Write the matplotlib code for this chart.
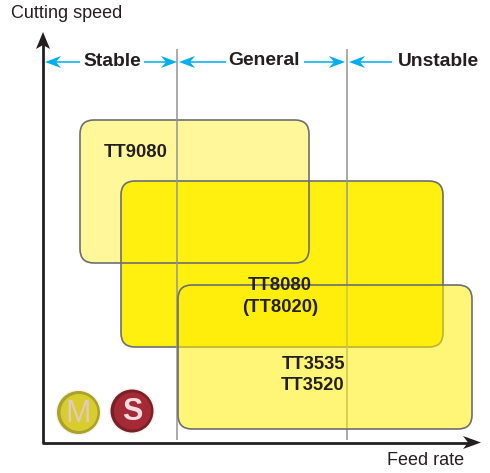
import matplotlib
matplotlib.use("Agg")
import matplotlib.pyplot as plt
from matplotlib.patches import FancyBboxPatch, Circle, Polygon

plt.rcParams['font.family'] = ['Liberation Sans', 'DejaVu Sans']

# Grades: (feed rate low, feed rate high, speed low, speed high), chart units = reference pixels
grades = ["TT9080", "TT8080", "TT3535"]
feed_low = [80, 121, 178]
feed_high = [309, 443, 472]
speed_top = [120, 181, 285]
speed_bottom = [263, 347, 429]
fills = ["#FFF799", "#FFF00F", "#FFED08"]
fill_alpha = [1, 1, 0.55]

boundaries = [177, 347]
zones = ["Stable", "General", "Unstable"]

INK = "#231F20"
CYAN = "#00AEEF"
EDGE = "#6D6E71"

fig = plt.figure(figsize=(4.9, 4.73), dpi=100)
ax = fig.add_axes([0, 0, 1, 1])
ax.set_xlim(0, 490)
ax.set_ylim(473, 0)
ax.axis("off")

R = 14
def box(i, **kw):
    x0, x1, y0, y1 = feed_low[i], feed_high[i], speed_top[i], speed_bottom[i]
    p = FancyBboxPatch((x0 + R, y0 + R), x1 - x0 - 2 * R, y1 - y0 - 2 * R,
                       boxstyle=f"round,pad={R},rounding_size={R}", **kw)
    ax.add_patch(p)

box(0, facecolor=fills[0], edgecolor="none", zorder=1)
box(1, facecolor=fills[1], edgecolor="none", zorder=1.5)
box(0, facecolor="none", edgecolor=EDGE, lw=1.2, zorder=2)
box(1, facecolor="none", edgecolor=EDGE, lw=1.2, zorder=2)

for b in boundaries:
    ax.plot([b, b], [49, 440], color="#939598", lw=1.1, zorder=3, solid_capstyle="butt")

# translucent top box lets the lines and the box below show through
box(2, facecolor=fills[2], edgecolor="none", alpha=fill_alpha[2], zorder=4)
box(2, facecolor="none", edgecolor=EDGE, lw=1.2, zorder=5)

# axes
ax.plot([43, 43], [44, 442.5], color=INK, lw=2.0, zorder=7, solid_capstyle="butt")
ax.plot([42, 470], [442.5, 442.5], color=INK, lw=2.0, zorder=7, solid_capstyle="butt")
ax.add_patch(Polygon([(43, 32), (50, 49), (43, 45), (36, 49)], fc=INK, ec="none", zorder=8))
ax.add_patch(Polygon([(481, 442.5), (463, 436), (468, 442.5), (463, 449)], fc=INK, ec="none", zorder=8))

# zone arrows
ARROW_Y = 62
def zone_arrow(start, tip):
    d = 1 if tip > start else -1
    ax.plot([start, tip - d * 8], [ARROW_Y, ARROW_Y], color=CYAN, lw=1.1, zorder=7, solid_capstyle="butt")
    ax.add_patch(Polygon([(tip, ARROW_Y), (tip - d * 16, ARROW_Y - 6), (tip - d * 11, ARROW_Y),
                          (tip - d * 16, ARROW_Y + 6)], fc=CYAN, ec="none", zorder=8))

for start, tip in [(80, 45), (144, 177), (226, 179), (304, 345), (392, 349)]:
    zone_arrow(start, tip)

bold = dict(fontweight="bold", color=INK, fontsize=13.9, ha="center", va="center", zorder=9)
ax.text(112, 61.5, zones[0], **bold)
ax.text(264, 60.5, zones[1], **bold)
ax.text(438, 61.5, zones[2], **bold)

grade = dict(fontweight="bold", color=INK, fontsize=13.2, ha="center", va="center", zorder=9)
ax.text(136, 152, "TT9080", **grade)
ax.text(280, 285, "TT8080", **grade)
ax.text(280, 307, "(TT8020)", **grade)
ax.text(313, 364, "TT3535", **grade)
ax.text(313, 385.5, "TT3520", **grade)

reg = dict(color=INK, fontsize=13, zorder=9, va="center")
ax.text(11, 14, "Cutting speed", ha="left", **reg)
ax.text(464, 460, "Feed rate", ha="right", **reg)

# material badges
for cx, cy, fc, dark, letter, tc, fw, fs in [(78.5, 412.5, "#D8CC2E", "#A9A32A", "M", "#E3C9C0", "normal", 22),
                                             (132, 411, "#A52A35", "#7A2029", "S", "#F7DDE0", "bold", 22)]:
    ax.add_patch(Circle((cx, cy), 23, fc="#F6F4EC", ec="none", zorder=3))
    ax.add_patch(Circle((cx, cy), 21.5, fc=dark, ec="none", zorder=3.2))
    ax.add_patch(Circle((cx + 0.5, cy), 18.5, fc=fc, ec="none", zorder=3.4))
    ax.text(cx, cy + 1, letter, fontsize=fs, fontweight=fw, color=tc, ha="center", va="center", zorder=6)

fig.savefig("out.png", dpi=100, facecolor="white")
